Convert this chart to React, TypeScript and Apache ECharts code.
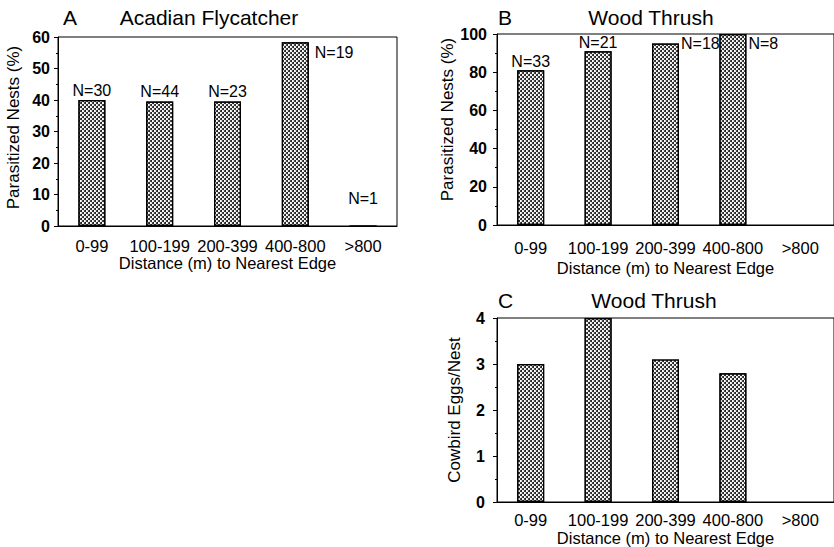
import React, { useEffect, useRef } from "react";
import * as echarts from "echarts";

const categories = ["0-99", "100-199", "200-399", "400-800", ">800"];
const acadianParasitized = [40, 39.5, 39.5, 58.3, 0];
const acadianN = ["N=30", "N=44", "N=23", "N=19", "N=1"];
const thrushParasitized = [81, 91, 95, 100, null];
const thrushN = ["N=33", "N=21", "N=18", "N=8", ""];
const thrushEggs = [3.0, 4.0, 3.1, 2.8, null];
const acadianTicks = { min: 0, max: 60, interval: 10 };
const thrushTicks = { min: 0, max: 100, interval: 20 };
const eggTicks = { min: 0, max: 4, interval: 1 };

const FONT = "'Liberation Sans', Arial, Helvetica, sans-serif";
const XNAME = "Distance (m) to Nearest Edge";

const decal = {
  symbol: "circle",
  symbolSize: 1,
  dashArrayX: [
    [2, 2],
    [0, 2, 2, 0],
  ],
  dashArrayY: [2, 0],
  color: "rgba(0,0,0,0.95)",
};

function xAxis(gridIndex: number, labelMargin: number, nameGap: number) {
  return {
    gridIndex,
    type: "category",
    data: categories,
    axisLine: { lineStyle: { color: "#000", width: 1 } },
    axisTick: { alignWithLabel: true, length: 4, lineStyle: { color: "#000" } },
    axisLabel: {
      interval: 0,
      hideOverlap: false,
      margin: labelMargin,
      fontSize: 16.5,
      color: "#000",
      fontFamily: FONT,
    },
    name: XNAME,
    nameLocation: "middle",
    nameGap,
    nameTextStyle: { fontSize: 16.5, color: "#000", fontFamily: FONT },
  };
}

function yAxis(
  gridIndex: number,
  t: { min: number; max: number; interval: number },
  name: string,
  labelMargin: number,
  nameGap: number,
  namePadding: number[]
) {
  return {
    gridIndex,
    type: "value",
    min: t.min,
    max: t.max,
    interval: t.interval,
    axisLine: { show: true, lineStyle: { color: "#000", width: 1 } },
    axisTick: { show: true, length: 4, lineStyle: { color: "#000" } },
    minorTick: { show: true, splitNumber: 2, length: 2, lineStyle: { color: "#000" } },
    splitLine: { show: false },
    axisLabel: { margin: labelMargin, fontSize: 16, fontWeight: "bold", color: "#000", fontFamily: FONT },
    name,
    nameLocation: "middle",
    nameGap,
    nameTextStyle: { fontSize: 17, color: "#000", fontFamily: FONT, padding: namePadding },
  };
}

const barStyle = {
  color: "#fff",
  borderColor: "#000",
  borderWidth: 1.2,
  decal,
};

export default function App() {
  const ref = useRef<HTMLDivElement>(null);
  useEffect(() => {
    if (!ref.current) return;
    const chart = echarts.init(ref.current, null, { renderer: "svg" });

    const labelBase = { show: true, fontSize: 16, color: "#000", fontFamily: FONT };

    const aData = acadianParasitized.map((v, i) => {
      let label: any = { ...labelBase, formatter: acadianN[i], position: "top", distance: 2 };
      if (i === 3) {
        label = { ...labelBase, formatter: acadianN[i], position: ["100%", 0], align: "left", verticalAlign: "middle", offset: [6, 10] };
      }
      if (i === 4) {
        label = { ...labelBase, formatter: acadianN[i], position: "top", distance: 19 };
      }
      return { value: v, label };
    });

    const bData = thrushParasitized.map((v, i) => {
      let label: any = { ...labelBase, formatter: thrushN[i], position: "top", distance: 1 };
      if (i === 2) {
        label = { ...labelBase, formatter: thrushN[i], position: ["100%", 0], align: "left", verticalAlign: "middle", offset: [2, 0] };
      }
      if (i === 3) {
        label = { ...labelBase, formatter: thrushN[i], position: ["100%", 0], align: "left", verticalAlign: "middle", offset: [2, 9] };
      }
      return { value: v, label };
    });

    const titleStyle = (text: string, x: number, y: number, align: string) => ({
      type: "text",
      x,
      y,
      style: { text, font: `21px ${FONT}`, fill: "#000", textAlign: align, textVerticalAlign: "middle" },
    });

    chart.setOption({
      animation: false,
      backgroundColor: "#fff",
      textStyle: { fontFamily: FONT },
      grid: [
        { left: 58, top: 37, width: 339, height: 189, show: true, borderColor: "#000", borderWidth: 1 },
        { left: 497, top: 34, width: 340, height: 191, show: true, borderColor: "#000", borderWidth: 1 },
        { left: 497, top: 318, width: 340, height: 184, show: true, borderColor: "#000", borderWidth: 1 },
      ],
      xAxis: [xAxis(0, 11, 27), xAxis(1, 14, 34), xAxis(2, 9, 27)],
      yAxis: [
        yAxis(0, acadianTicks, "Parasitized Nests (%)", 8, 36, [0, 0, 0, 8]),
        yAxis(1, thrushTicks, "Parasitized Nests (%)", 10, 40, [0, 0, 0, 20]),
        yAxis(2, eggTicks, "Cowbird Eggs/Nest", 12, 34, [0, 0, 0, 0]),
      ],
      series: [
        { type: "bar", xAxisIndex: 0, yAxisIndex: 0, barWidth: 27, itemStyle: barStyle, data: aData },
        { type: "bar", xAxisIndex: 1, yAxisIndex: 1, barWidth: 27, itemStyle: barStyle, data: bData },
        { type: "bar", xAxisIndex: 2, yAxisIndex: 2, barWidth: 27, itemStyle: barStyle, data: thrushEggs },
      ],
      graphic: [
        titleStyle("A", 63, 17, "left"),
        titleStyle("Acadian Flycatcher", 209, 17, "center"),
        titleStyle("B", 498, 17, "left"),
        titleStyle("Wood Thrush", 651, 17, "center"),
        titleStyle("C", 498, 300, "left"),
        titleStyle("Wood Thrush", 654, 300, "center"),
      ],
    });
    return () => chart.dispose();
  }, []);
  return (
    <div
      ref={ref}
      style={{ position: "fixed", left: 0, top: 0, width: 834, height: 547, background: "#fff" }}
    />
  );
}
